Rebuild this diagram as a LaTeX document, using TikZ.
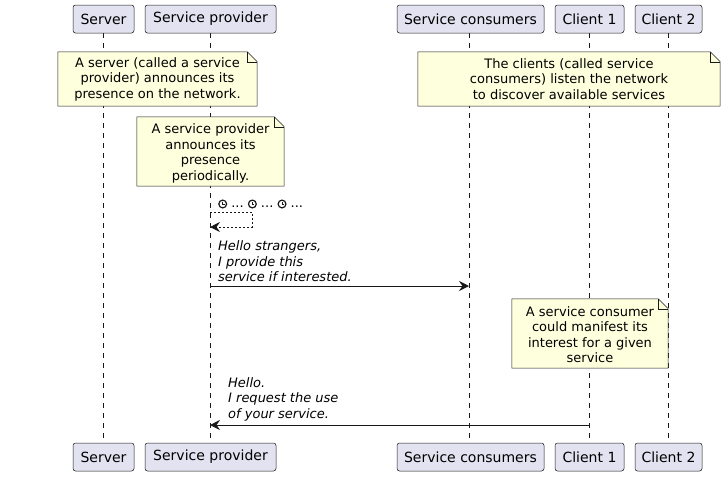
\documentclass[tikz,border=0pt]{standalone}
\usepackage{fontspec}
\setmainfont{DejaVu Sans}
\usetikzlibrary{arrows.meta,backgrounds}
\definecolor{partfill}{HTML}{E2E2F0}
\definecolor{notefillc}{HTML}{FEFFDD}
\definecolor{ink}{HTML}{181818}
\newcommand\clk{\tikz[baseline=0pt,x=1pt,y=1pt]{\draw[ink,line width=1.2pt] (0,3.8) circle (3.9);\draw[ink,line width=1pt] (0,6)--(0,3.8)--(1.9,3.8);}}
\newcommand\notebg[1]{%
  \path[fill=notefillc,draw=ink,line width=0.5pt] (#1.north west) -- ([xshift=-10pt]#1.north east) -- ([yshift=-10pt]#1.north east) -- (#1.south east) -- (#1.south west) -- cycle;
  \draw[ink,line width=0.5pt] ([xshift=-10pt]#1.north east) -- ([xshift=-10pt,yshift=-10pt]#1.north east) -- ([yshift=-10pt]#1.north east);}
\tikzset{
  part/.style={draw=ink,fill=partfill,line width=0.5pt,rounded corners=2.5pt,minimum height=28pt,inner sep=0pt,font=\fontsize{14}{16}\selectfont},
  notetext/.style={inner sep=0pt,align=center,font=\fontsize{13}{15.5}\selectfont},
  msgtext/.style={inner sep=0pt,align=left,font=\fontsize{13}{15.5}\selectfont\itshape},
  lifeline/.style={ink,line width=0.5pt,dash pattern=on 5pt off 5pt},
  tip/.style={-{Stealth[length=10pt,width=10pt,inset=3.5pt]}},
  msg/.style={ink,line width=0.9pt,tip},
}
\begin{document}
\begin{tikzpicture}[x=1pt,y=-1pt]
\useasboundingbox (0,0) rectangle (726,477);
% participants top
\node[part,minimum width=61pt] (srvT) at (103.5,19) {Server};
\node[part,minimum width=131pt] (spT) at (210.5,19) {Service provider};
\node[part,minimum width=147pt] (scT) at (470.5,19) {Service consumers};
\node[part,minimum width=69pt] (c1T) at (589.5,19) {Client 1};
\node[part,minimum width=67pt] (c2T) at (668.5,19) {Client 2};
% participants bottom
\node[part,minimum width=61pt] (srvB) at (103.5,457) {Server};
\node[part,minimum width=131pt] (spB) at (210.5,457) {Service provider};
\node[part,minimum width=147pt] (scB) at (470.5,457) {Service consumers};
\node[part,minimum width=69pt] (c1B) at (589.5,457) {Client 1};
\node[part,minimum width=67pt] (c2B) at (668.5,457) {Client 2};
% notes (text)
\node[notetext,minimum width=199pt,minimum height=54pt] (n1) at (157.5,79) {A server (called a service\\provider) announces its\\presence on the network.};
\node[notetext,minimum width=302pt,minimum height=54pt] (n2) at (569,79) {The clients (called service\\consumers) listen the network\\to discover available services};
\node[notetext,minimum width=147pt,minimum height=69pt] (n3) at (210.5,151.5) {\vphantom{Ap}};
\node[notetext] (n3t) at (210.5,153.5) {A service provider\\announces its\\presence\\periodically.};
\node[notetext,minimum width=156pt,minimum height=69pt] (n4) at (590,333.5) {};
\node[notetext] (n4t) at (590,334.5) {A service consumer\\could manifest its\\interest for a given\\service};
\begin{scope}[on background layer]
\draw[lifeline] (srvT.south) -- (srvB.north);
\draw[lifeline] (spT.south) -- (spB.north);
\draw[lifeline] (scT.south -| 469,0) -- (scB.north -| 469,0);
\draw[lifeline] (c1T.south) -- (c1B.north);
\draw[lifeline] (c2T.south) -- (c2B.north);
\notebg{n1}
\notebg{n2}
\notebg{n3}
\notebg{n4}
\end{scope}
% self message
\coordinate (s1) at (210,212);
\coordinate (s2) at (210,227);
\node[msgtext,font=\fontsize{13}{15.5}\selectfont,anchor=west] (tick) at (218,204) {\clk\ ...\ \clk\ ...\ \clk\ ...};
\draw[ink,line width=0.9pt,dash pattern=on 2pt off 2pt,tip] (s1) -- (252,212) -- (252,227) -- (s2);
% message 1
\coordinate (m1a) at (210,286);
\coordinate (m1b) at (469,286);
\node[msgtext,anchor=south west] (t1) at (218,282) {Hello strangers,\\I provide this\\service if interested.};
\draw[msg] (m1a) -- (m1b);
% message 2
\coordinate (m2a) at (589,425);
\coordinate (m2b) at (210,425);
\node[msgtext,anchor=south west] (t2) at (228,421) {Hello.\\I request the use\\of your service.};
\draw[msg] (m2a) -- (m2b);
\end{tikzpicture}
\end{document}
